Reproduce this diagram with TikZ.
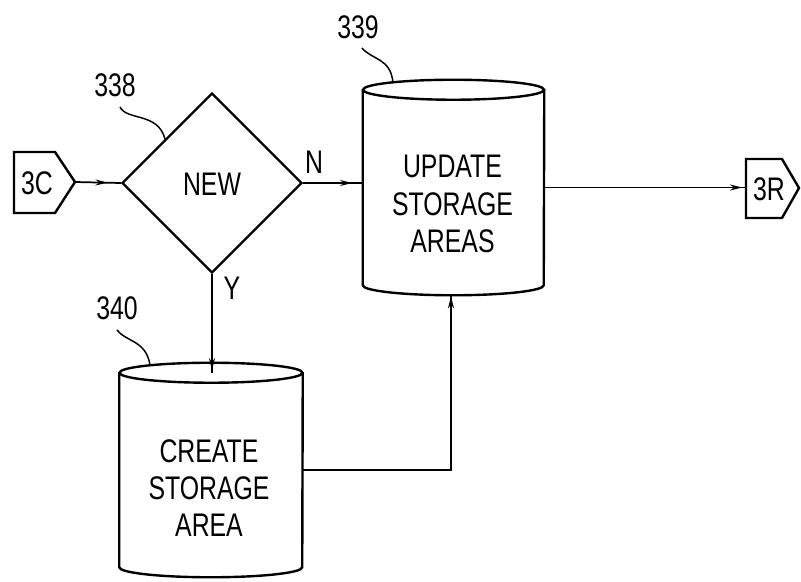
\documentclass[tikz,border=0pt]{standalone}
\usepackage{fontspec}
\setmainfont{Liberation Sans}[FakeStretch=0.76]
\usetikzlibrary{shapes.geometric,arrows.meta,decorations.markings}
\begin{document}
\begin{tikzpicture}[x=0.75pt,y=-0.75pt,
  outl/.style={line width=1.8pt},
  conn/.style={line width=1.3pt},
  lbl/.style={font=\fontsize{24.5}{28}\selectfont, align=center, inner sep=0pt},
  leader/.style={line width=1.1pt},
  arrowat/.style={postaction={decorate},decoration={markings,mark=at position #1 with {\arrow{Stealth[length=9pt,width=4.5pt]}}}},
]
\useasboundingbox (0,0) rectangle (801,582);

% decision
\node[diamond, draw, outl, minimum width=135pt, minimum height=135pt, inner sep=0pt, aspect=1] (d) at (212,183) {};
\node[lbl] (tnew) at (212,184) {NEW};

% cylinder 339
\node[minimum width=135.75pt, minimum height=146.25pt, inner sep=0pt] (c339) at (453.5,187.5) {};
\draw[outl] (c339.north west) -- (c339.south west) arc[start angle=180,end angle=360,x radius=67.875pt,y radius=7.5pt] -- (c339.north east);
\draw[outl] (c339.north) ellipse [x radius=67.875pt, y radius=7.5pt];
\node[lbl] (t339) at (452.5,204) {UPDATE\\STORAGE\\AREAS};

% cylinder 340
\node[minimum width=137.25pt, minimum height=145.5pt, inner sep=0pt] (c340) at (211,470) {};
\draw[outl] (c340.north west) -- (c340.south west) arc[start angle=180,end angle=360,x radius=68.625pt,y radius=7.5pt] -- (c340.north east);
\draw[outl] (c340.north) ellipse [x radius=68.625pt, y radius=7.5pt];
\node[lbl] (t340) at (209,488) {CREATE\\STORAGE\\AREA};

% off-page connectors
\draw[outl] (14,152) -- (55,152) -- (75,182) -- (55,213) -- (14,213) -- cycle;
\node[lbl] (n3c) at (37,183) {3C};
\coordinate (tip3c) at (75,182);
\draw[outl] (746,159) -- (782,159) -- (799,188) -- (782,218) -- (746,218) -- cycle;
\node[lbl] (n3r) at (769,189) {3R};
\coordinate (in3r) at (746,187.5);

% labels
\node[lbl] (lN) at (314,162) {N};
\node[lbl] (lY) at (232,288) {Y};
\node[lbl] (r338) at (115,85) {338};
\node[lbl] (r339) at (358,27) {339};
\node[lbl] (r340) at (117,308) {340};

% leaders
\coordinate (l338a) at (120,107); \coordinate (l338b) at (165,139);
\coordinate (l339a) at (362,48);  \coordinate (l339b) at (393,83);
\coordinate (l340a) at (117,330); \coordinate (l340b) at (150,365);
\draw[leader] (l338a) .. controls (127,121) and (158,112) .. (l338b);
\draw[leader] (l339a) .. controls (372,60) and (391,58) .. (l339b);
\draw[leader] (l340a) .. controls (126,342) and (146,340) .. (l340b);

% connectors
\draw[conn, arrowat=-10pt] (tip3c) -- (d.west);
\draw[conn, arrowat=-8pt] (d.east) -- (d.east -| c339.west);
\draw[conn, arrowat=-3pt] (c339.east) -- (in3r);
\draw[conn, arrowat=-2pt] (d.south) -- (d.south |- c340.north);
\coordinate (b339) at (451,295);
\draw[conn, arrowat=-1pt] (c340.east) -| (b339);
\end{tikzpicture}
\end{document}
